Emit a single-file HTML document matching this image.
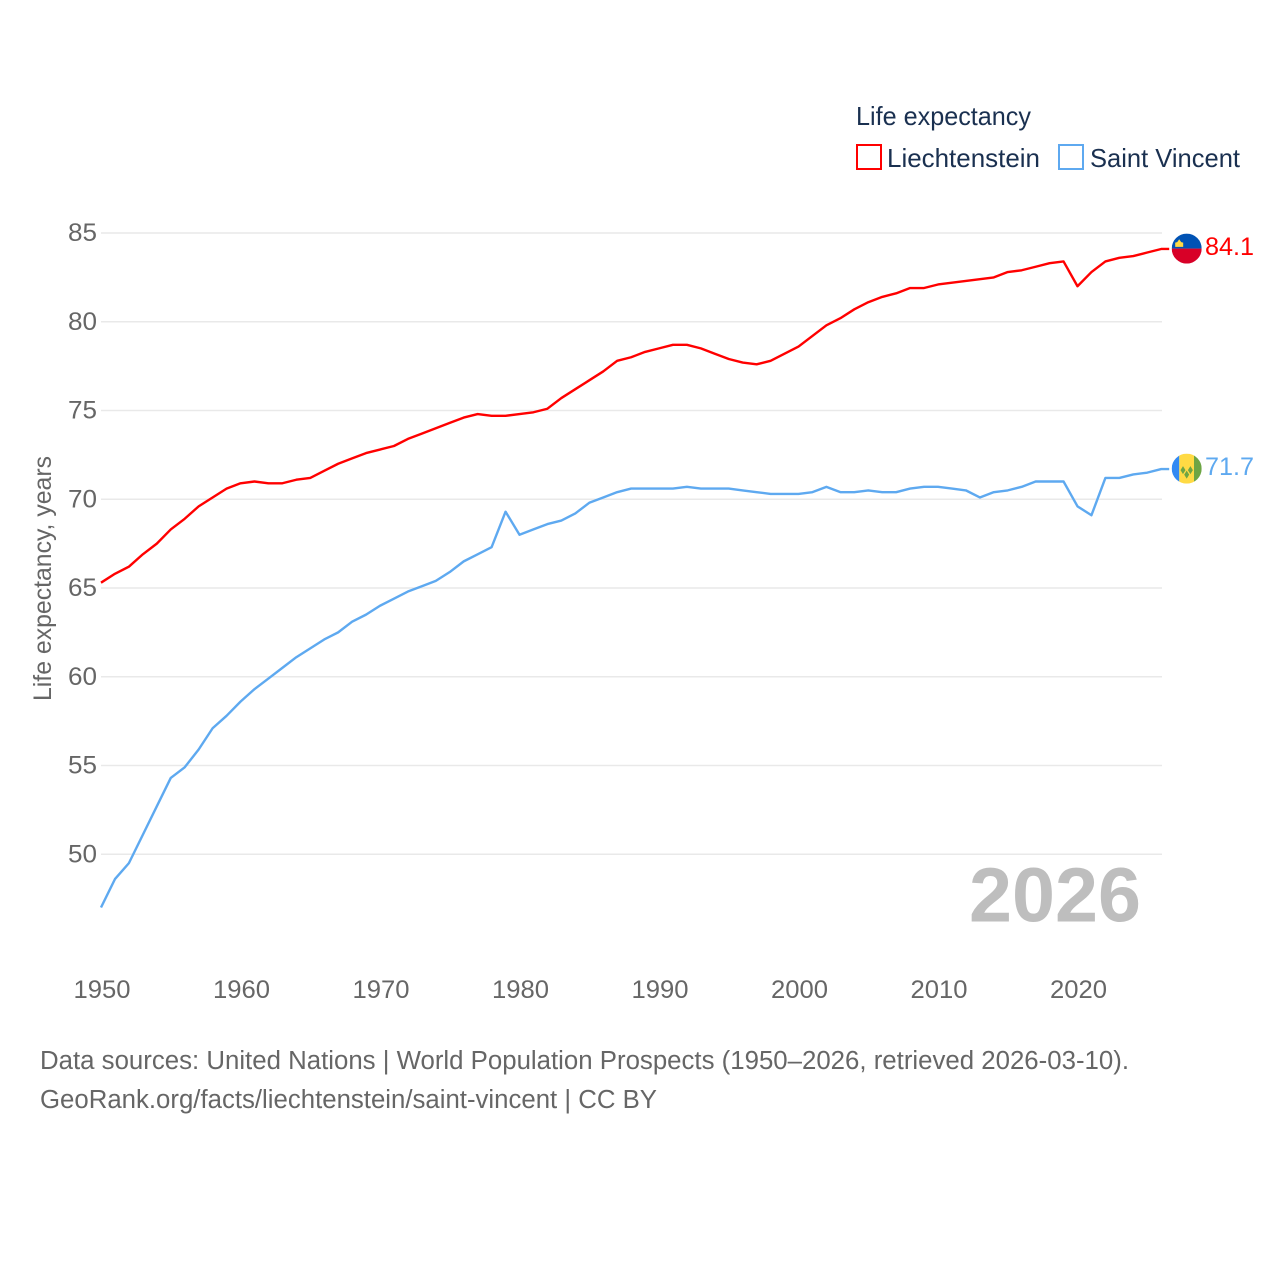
<!DOCTYPE html>
<html lang="en">
<head>
<meta charset="utf-8">
<title>Life expectancy: Liechtenstein and Saint Vincent</title>
<style>
html,body{margin:0;padding:0;background:#fff;width:1280px;height:1280px;overflow:hidden}
svg{display:block}
text{font-family:"Liberation Sans",sans-serif}
</style>
</head>
<body>
<svg id="chart" xmlns="http://www.w3.org/2000/svg" width="1280" height="1280" viewBox="0 0 1280 1280">
  <rect width="1280" height="1280" fill="#fff"/>
  <g id="grid"></g>
  <g id="yticks"></g>
  <g id="xticks"></g>
  <text transform="translate(51,701) rotate(-90)" font-size="25" fill="#666" textLength="245" lengthAdjust="spacingAndGlyphs">Life expectancy, years</text>

  <text x="856" y="125" font-size="26" fill="#1a3050" textLength="175" lengthAdjust="spacingAndGlyphs">Life expectancy</text>
  <g>
    <rect x="857" y="145" width="24" height="24" fill="none" stroke="#ff0000" stroke-width="2"/>
    <text x="887" y="167" font-size="26" fill="#1a3050" textLength="153" lengthAdjust="spacingAndGlyphs">Liechtenstein</text>
  </g>
  <g>
    <rect x="1059" y="145" width="24" height="24" fill="none" stroke="#5ea9f0" stroke-width="2"/>
    <text x="1090" y="167" font-size="26" fill="#1a3050" textLength="150" lengthAdjust="spacingAndGlyphs">Saint Vincent</text>
  </g>

  <path id="line-liechtenstein" fill="none" stroke="#ff0000" stroke-width="2.4" stroke-linejoin="round"/>
  <path id="line-saint-vincent" fill="none" stroke="#5ea9f0" stroke-width="2.4" stroke-linejoin="round"/>

  <defs>
    <clipPath id="flag-clip"><circle cx="0" cy="0" r="15"/></clipPath>
  </defs>
  <g id="flag-liechtenstein">
    <g clip-path="url(#flag-clip)">
      <rect x="-15" y="-15" width="30" height="15" fill="#0052b4"/>
      <rect x="-15" y="0" width="30" height="15" fill="#d80027"/>
      <path d="M-11.500-1.700V-6L-9.500-6.500-7.500-9.300-5.500-6.500-3.500-6V-1.700Z" fill="#ffda44"/>
    </g>
  </g>
  <g id="flag-saint-vincent">
    <g clip-path="url(#flag-clip)">
      <rect x="-15" y="-15" width="7.600" height="30" fill="#338af3"/>
      <rect x="-7.400" y="-15" width="14.700" height="30" fill="#ffda44"/>
      <rect x="7.300" y="-15" width="7.700" height="30" fill="#6da544"/>
      <path d="M-3.700-2.500-1.200 1.500-3.700 5.500-6.200 1.500ZM3.700-2.500 6.200 1.500 3.700 5.500 1.200 1.500ZM0 2 2.500 6 0 10-2.500 6Z" fill="#6da544"/>
    </g>
  </g>
  <text id="value-liechtenstein" x="1205" font-size="25" fill="#ff0000" textLength="49" lengthAdjust="spacingAndGlyphs"></text>
  <text id="value-saint-vincent" x="1205" font-size="25" fill="#5ea9f0" textLength="49" lengthAdjust="spacingAndGlyphs"></text>

  <text x="969" y="921.500" font-size="77" font-weight="bold" fill="#bebebe" textLength="172" lengthAdjust="spacingAndGlyphs">2026</text>

  <text x="40" y="1069" font-size="25.500" fill="#666" textLength="1089" lengthAdjust="spacingAndGlyphs">Data sources: United Nations | World Population Prospects (1950–2026, retrieved 2026-03-10).</text>
  <text x="40" y="1108" font-size="25.500" fill="#666" textLength="617" lengthAdjust="spacingAndGlyphs">GeoRank.org/facts/liechtenstein/saint-vincent | CC BY</text>
</svg>
<script>
const startYear = 1950;
const yTickValues = [85, 80, 75, 70, 65, 60, 55, 50];
const xTickValues = [1950, 1960, 1970, 1980, 1990, 2000, 2010, 2020];
const liechtensteinValues = [
  65.3, 65.8, 66.2, 66.9, 67.5, 68.3, 68.9, 69.6, 70.1, 70.6,
  70.9, 71.0, 70.9, 70.9, 71.1, 71.2, 71.6, 72.0, 72.3, 72.6,
  72.8, 73.0, 73.4, 73.7, 74.0, 74.3, 74.6, 74.8, 74.7, 74.7,
  74.8, 74.9, 75.1, 75.7, 76.2, 76.7, 77.2, 77.8, 78.0, 78.3,
  78.5, 78.7, 78.7, 78.5, 78.2, 77.9, 77.7, 77.6, 77.8, 78.2,
  78.6, 79.2, 79.8, 80.2, 80.7, 81.1, 81.4, 81.6, 81.9, 81.9,
  82.1, 82.2, 82.3, 82.4, 82.5, 82.8, 82.9, 83.1, 83.3, 83.4,
  82.0, 82.8, 83.4, 83.6, 83.7, 83.9, 84.1
];
const saintVincentValues = [
  47.0, 48.6, 49.5, 51.1, 52.7, 54.3, 54.9, 55.9, 57.1, 57.8,
  58.6, 59.3, 59.9, 60.5, 61.1, 61.6, 62.1, 62.5, 63.1, 63.5,
  64.0, 64.4, 64.8, 65.1, 65.4, 65.9, 66.5, 66.9, 67.3, 69.3,
  68.0, 68.3, 68.6, 68.8, 69.2, 69.8, 70.1, 70.4, 70.6, 70.6,
  70.6, 70.6, 70.7, 70.6, 70.6, 70.6, 70.5, 70.4, 70.3, 70.3,
  70.3, 70.4, 70.7, 70.4, 70.4, 70.5, 70.4, 70.4, 70.6, 70.7,
  70.7, 70.6, 70.5, 70.1, 70.4, 70.5, 70.7, 71.0, 71.0, 71.0,
  69.6, 69.1, 71.2, 71.2, 71.4, 71.5, 71.7
];

const SVG_NS = 'http://www.w3.org/2000/svg';
function xScale(year) { return 101 + (year - 1950) * 13.95; }
function yScale(value) { return 233 + (85 - value) * 17.75; }

const gridGroup = document.getElementById('grid');
const yTickGroup = document.getElementById('yticks');
const xTickGroup = document.getElementById('xticks');

yTickValues.forEach(function (tick) {
  const line = document.createElementNS(SVG_NS, 'line');
  
  
  line.setAttribute('x1', 101);
  line.setAttribute('x2', 1162);
  line.setAttribute('y1', yScale(tick));
  line.setAttribute('y2', yScale(tick));
  line.setAttribute('stroke', '#e9e9e9');
  line.setAttribute('stroke-width', '1.500');
  gridGroup.appendChild(line);

  const label = document.createElementNS(SVG_NS, 'text');
  
  
  label.setAttribute('x', 68);
  label.setAttribute('y', yScale(tick) + 8);
  label.setAttribute('font-size', '25');
  label.setAttribute('fill', '#666');
  label.setAttribute('textLength', '29');
  label.setAttribute('lengthAdjust', 'spacingAndGlyphs');
  label.textContent = String(tick);
  yTickGroup.appendChild(label);
});

xTickValues.forEach(function (tick) {
  const label = document.createElementNS(SVG_NS, 'text');
  
  
  label.setAttribute('x', xScale(tick) - 27.500);
  label.setAttribute('y', 998);
  label.setAttribute('font-size', '25');
  label.setAttribute('fill', '#666');
  label.setAttribute('textLength', '57');
  label.setAttribute('lengthAdjust', 'spacingAndGlyphs');
  label.textContent = String(tick);
  xTickGroup.appendChild(label);
});

function drawSeries(values, lineId, flagId, valueId) {
  const lastIndex = values.length - 1;
  const lastValue = values[lastIndex];
  const lastX = xScale(startYear + lastIndex);
  const lastY = yScale(lastValue);
  const points = values.map(function (value, index) {
    return xScale(startYear + index).toFixed(2) + ' ' + yScale(value).toFixed(2);
  });
  const stub = 'L' + (lastX + 8).toFixed(2) + ' ' + lastY.toFixed(2);
  document.getElementById(lineId).setAttribute('d', 'M' + points.join('L') + stub);
  document.getElementById(flagId).setAttribute('transform', 'translate(1186.700,' + (lastY - 0.4).toFixed(2) + ')');
  const valueLabel = document.getElementById(valueId);
  valueLabel.setAttribute('y', lastY + 6);
  valueLabel.textContent = lastValue.toFixed(1);
}

drawSeries(liechtensteinValues, 'line-liechtenstein', 'flag-liechtenstein', 'value-liechtenstein');
drawSeries(saintVincentValues, 'line-saint-vincent', 'flag-saint-vincent', 'value-saint-vincent');
</script>
</body>
</html>
